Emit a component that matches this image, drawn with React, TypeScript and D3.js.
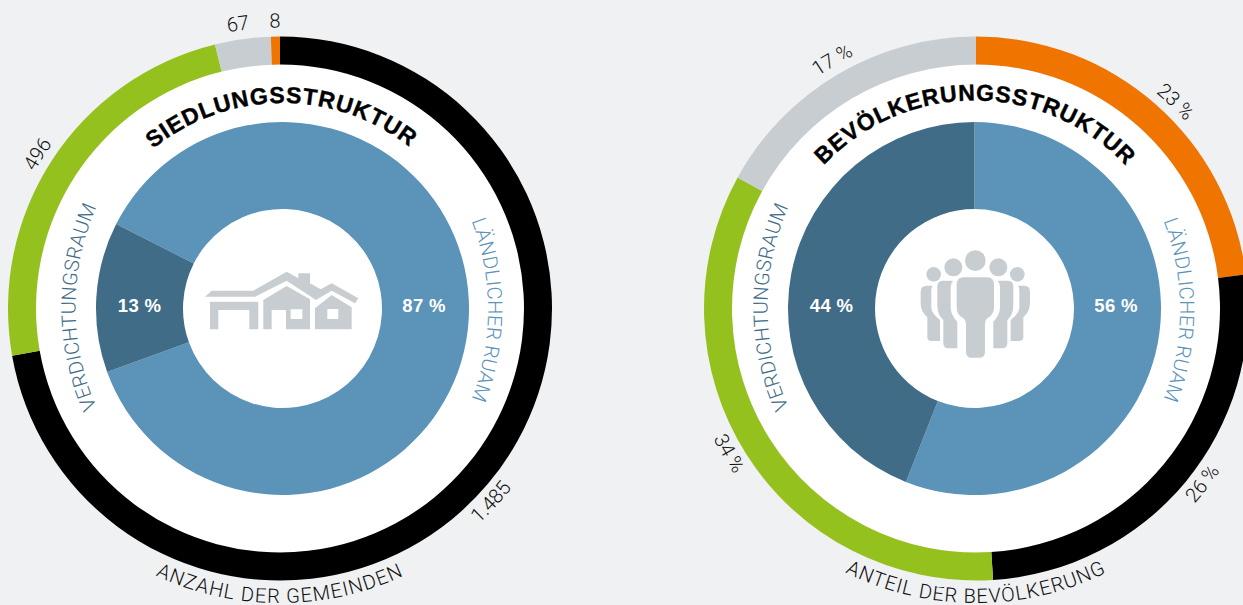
import React from "react";
import * as d3 from "d3";

const W = 1243, H = 605;
const BG = "#f0f1f3", BLUE = "#5b93b9", DARK = "#406c87", GREEN = "#95c11f", GREY = "#c8cdd1", ORANGE = "#f07400", BLACK = "#000000", INK = "#111111";
const LIGHT = "Roboto, 'Liberation Sans', sans-serif";
const HEAVY = "'Liberation Sans', Arial, sans-serif";

const leftRingNames = ["1.485", "496", "67", "8"];
const leftRingValues = [1485, 492, 68, 11];
const rightRingNames = ["26 %", "34 %", "17 %", "23 %"];
const rightRingValues = [26, 34, 17, 23];
const leftInnerValues = [87, 13];
const rightInnerValues = [56, 44];

const rad = Math.PI / 180;

function arcD(cx: number, cy: number, r: number, midDeg: number, clockwise: boolean) {
  const span = 85;
  const p = d3.path();
  const m = (midDeg - 90) * rad;
  if (clockwise) p.arc(cx, cy, r, m - span * rad, m + span * rad, false);
  else p.arc(cx, cy, r, m + span * rad, m - span * rad, true);
  return p.toString();
}

type TL = { id: string; text: string; cx: number; cy: number; r: number; mid: number; cw: boolean; size: number; fill: string; family?: string; weight?: number; ls?: number; stroke?: number };

function CurvedText({ t }: { t: TL }) {
  return (
    <g>
      <path id={t.id} d={arcD(t.cx, t.cy, t.r, t.mid, t.cw)} fill="none" />
      <text fontFamily={t.family ?? LIGHT} fontWeight={t.weight ?? 300} fontSize={t.size} fill={t.fill} stroke={t.stroke ? t.fill : "none"} strokeWidth={t.stroke ?? 0} letterSpacing={t.ls ?? 0} textAnchor="middle">
        <textPath href={`#${t.id}`} startOffset="50%">{t.text}</textPath>
      </text>
    </g>
  );
}

function Ring({ cx, cy, values, colors }: { cx: number; cy: number; values: number[]; colors: string[] }) {
  const pie = d3.pie<number>().sort(null).value((d) => d);
  const arc = d3.arc<d3.PieArcDatum<number>>().innerRadius(244).outerRadius(272);
  return (
    <g transform={`translate(${cx},${cy})`}>
      <circle r={244} fill="#fff" />
      {pie(values).map((d, i) => <path key={i} d={arc(d) as string} fill={colors[i]} />)}
    </g>
  );
}

function Inner({ cx, cy, values, start, labels }: { cx: number; cy: number; values: number[]; start: number; labels: [number, number][] }) {
  const pie = d3.pie<number>().sort(null).value((d) => d).startAngle(start * rad).endAngle((start + 360) * rad);
  const arc = d3.arc<d3.PieArcDatum<number>>().innerRadius(99.5).outerRadius(186.5);
  return (
    <g transform={`translate(${cx},${cy})`}>
      {pie(values).map((d, i) => <path key={i} d={arc(d) as string} fill={i === 0 ? BLUE : DARK} />)}
      {values.map((v, i) => (
        <text key={i} x={labels[i][0]} y={labels[i][1]} textAnchor="middle" fontFamily={HEAVY} fontWeight={700} fontSize={18.5} letterSpacing={0.3} fill="#fff">{v} %</text>
      ))}
    </g>
  );
}

function House() {
  return (
    <g transform="translate(190,250) scale(0.3333)" fill={GREY}>
      <path d="M45,140 L65,122 H190 L290,65 L325,85 V70 H360 V100 L392,118 L425,100 L505,145 L495,160 L425,122 L378,150 L290,92 L195,140 Z" />
      <path d="M60,155 H205 V238 H178 V180 H85 V238 H60 Z" />
      <path fillRule="evenodd" d="M220,150 L290,108 L360,148 V238 H288 V180 H245 V238 H220 Z M302,178 V207 H337 V178 Z" />
      <path fillRule="evenodd" d="M375,175 L425,135 L485,172 V238 H375 Z M412,177 V207 H445 V177 Z" />
    </g>
  );
}

function People() {
  const mid = "M128,122 H160 Q152,128 152,140 V205 Q154,228 172,245 V325 H145 Q130,325 130,310 V240 Q112,225 112,195 V140 Q112,122 128,122 Z";
  const far = "M80,137 H98 Q94,142 94,150 V205 Q96,222 120,240 V303 H95 Q82,303 82,290 V232 Q62,215 62,190 V155 Q62,137 80,137 Z";
  return (
    <g transform="translate(900,240) scale(0.3333)" fill={GREY}>
      <circle cx={226} cy={62} r={31} />
      <circle cx={160} cy={82} r={27} />
      <circle cx={295} cy={82} r={27} />
      <circle cx={101} cy={103} r={22} />
      <circle cx={352} cy={103} r={22} />
      <path d="M190,112 H262 Q282,112 282,135 V200 Q282,225 262,235 Q255,240 255,250 V335 Q255,353 238,353 H215 Q198,353 198,335 V250 Q198,240 190,235 Q170,225 170,200 V135 Q170,112 190,112 Z" />
      <path d={mid} />
      <path d={mid} transform="translate(452,0) scale(-1,1)" />
      <path d={far} />
      <path d={far} transform="translate(452,0) scale(-1,1)" />
    </g>
  );
}

export default function App() {
  const Lx = 280, Rx = 976, cy = 308.5, iLx = 282.5, iRx = 974.5;
  const texts: TL[] = [
    { id: "t1", text: "SIEDLUNGSSTRUKTUR", cx: iLx, cy, r: 205.5, mid: -0.3, cw: true, size: 23, fill: "#000", family: HEAVY, weight: 700, ls: 1, stroke: 0.4 },
    { id: "t2", text: "BEVÖLKERUNGSSTRUKTUR", cx: iRx, cy, r: 208, mid: 0.2, cw: true, size: 23, fill: "#000", family: HEAVY, weight: 700, ls: 0.9, stroke: 0.4 },
    { id: "t3", text: "LÄNDLICHER RUAM", cx: 240, cy: 310, r: 248, mid: 90, cw: true, size: 20, fill: BLUE, ls: 0.3 },
    { id: "t4", text: "VERDICHTUNGSRAUM", cx: 323.5, cy: 307, r: 248, mid: 270, cw: true, size: 20, fill: DARK, ls: 0.3 },
    { id: "t5", text: "LÄNDLICHER RUAM", cx: 932, cy: 310, r: 248, mid: 90, cw: true, size: 20, fill: BLUE, ls: 0.3 },
    { id: "t6", text: "VERDICHTUNGSRAUM", cx: 1015.5, cy: 307, r: 248, mid: 270, cw: true, size: 20, fill: DARK, ls: 0.3 },
    { id: "t7", text: "ANZAHL DER GEMEINDEN", cx: Lx, cy, r: 294.5, mid: 180, cw: false, size: 20, fill: INK, ls: 1.1 },
    { id: "t8", text: "ANTEIL DER BEVÖLKERUNG", cx: Rx, cy, r: 294.5, mid: 180, cw: false, size: 20, fill: INK, ls: 0.95 },
  ];
  const ringL: [number, boolean][] = [[132.5, false], [302.5, true], [351.6, true], [359, true]];
  const ringR: [number, boolean][] = [[127.7, false], [239.6, false], [330, true], [44, true]];
  return (
    <svg width={W} height={H} viewBox={`0 0 ${W} ${H}`} style={{ position: "absolute", left: 0, top: 0, display: "block", background: BG }}>
      <Ring cx={Lx} cy={cy} values={leftRingValues} colors={[BLACK, GREEN, GREY, ORANGE]} />
      <Ring cx={Rx} cy={cy} values={[rightRingValues[3], ...rightRingValues.slice(0, 3)]} colors={[ORANGE, BLACK, GREEN, GREY]} />
      <Inner cx={iLx} cy={cy} values={leftInnerValues} start={296.9 - 360} labels={[[141.5, 3.5], [-143, 3.5]]} />
      <Inner cx={iRx} cy={cy} values={rightInnerValues} start={0} labels={[[141.5, 3.5], [-143, 3.5]]} />
      <House />
      <People />
      {texts.map((t) => <CurvedText key={t.id} t={t} />)}
      {ringL.map(([a, c], i) => <CurvedText key={i} t={{ id: `l${i}`, text: leftRingNames[i], cx: Lx, cy, r: c ? 281 : 293, mid: a, cw: c, size: 20, fill: INK }} />)}
      {ringR.map(([a, c], i) => <CurvedText key={i} t={{ id: `r${i}`, text: rightRingNames[i], cx: Rx, cy, r: c ? 281 : 293, mid: a, cw: c, size: 20, fill: INK }} />)}
    </svg>
  );
}
